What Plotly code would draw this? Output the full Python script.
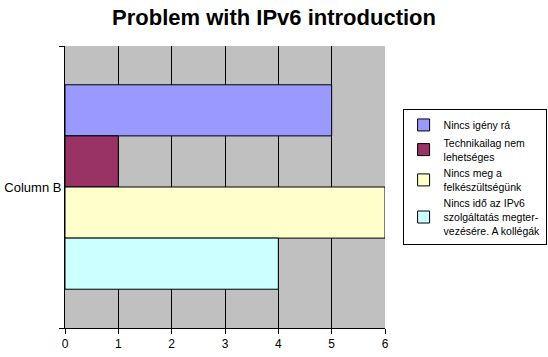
import plotly.graph_objects as go

categories = ["Column B"]
series_names = [
    "Nincs igény rá",
    "Technikailag nem<br>lehetséges",
    "Nincs meg a<br>felkészültségünk",
    "Nincs idő az IPv6<br>szolgáltatás megter-<br>vezésére. A kollégák",
]
series_values = [[5], [1], [6], [4]]
colors = ["#9999FF", "#993366", "#FFFFCC", "#CCFFFF"]
x_ticks = [0, 1, 2, 3, 4, 5, 6]

fig = go.Figure()
for name, vals, col in zip(series_names, series_values, colors):
    fig.add_trace(go.Bar(
        y=categories, x=vals, name=name, orientation="h",
        marker=dict(color=col, line=dict(color="black", width=1)),
    ))

fig.update_layout(
    width=548, height=357,
    margin=dict(l=65, r=163, t=46, b=29, autoexpand=False),
    paper_bgcolor="white", plot_bgcolor="#C0C0C0",
    font=dict(family="Liberation Sans, Arial, sans-serif", size=11, color="black"),
    title=dict(text="<b>Problem with IPv6 introduction</b>", x=0.5, xanchor="center",
               y=0.952, yanchor="middle", font=dict(size=22)),
    barmode="group", bargap=0.275,
    showlegend=True,
    legend=dict(x=1.055, y=0.775, xanchor="left", yanchor="top",
                bordercolor="black", borderwidth=1, bgcolor="white",
                font=dict(size=10.5), traceorder="normal", tracegroupgap=0,
                itemwidth=30),
    xaxis=dict(range=[0, 6], tickvals=x_ticks, showgrid=True, gridcolor="black", gridwidth=1,
               showline=True, linecolor="black", ticks="outside", ticklen=5,
               tickcolor="black", zeroline=False, automargin=False,
               tickfont=dict(size=12)),
    yaxis=dict(autorange="reversed", showline=True, linecolor="black", ticks="outside",
               tickson="boundaries", ticklen=5, tickcolor="black", showgrid=False,
               automargin=False, tickfont=dict(size=13)),
)
fig.write_html("out.html", config={"displayModeBar": False},
               post_script="document.body.style.margin='0';document.body.style.overflow='hidden';")
